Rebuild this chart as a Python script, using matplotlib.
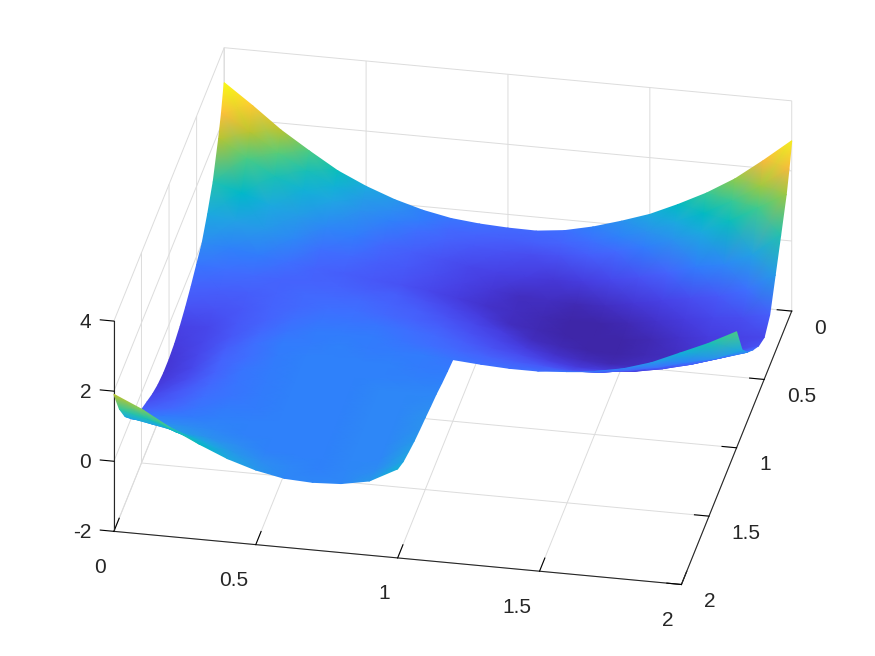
import numpy as np
import matplotlib
matplotlib.use("Agg")
import matplotlib.pyplot as plt
from matplotlib.colors import ListedColormap, Normalize
from matplotlib.transforms import Affine2D
from mpl_toolkits.mplot3d import proj3d

plt.rcParams['font.family'] = ['Liberation Sans', 'DejaVu Sans']

x_upper = [0.0,0.1,0.2,0.3,0.4,0.5,0.6,0.7,0.8,0.9,1.0,1.1,1.2,1.3,1.4,1.5,1.6,1.7,1.8,1.9,2.0]
y_upper = [0.0,0.05,0.1,0.2,0.3,0.4,0.5,0.6,0.7,0.8,0.9,1.0]
x_lower = [0.0,0.1,0.2,0.3,0.4,0.5,0.6,0.7,0.8,0.9,1.0]
y_lower = [1.0,1.1,1.2,1.3,1.4,1.5,1.6,1.7,1.8,1.9,2.0]

z_upper = [
 [3.00,2.42,1.80,1.28,0.79,0.42,0.12,-0.11,-0.27,-0.35,-0.39,-0.40,-0.31,-0.13,0.11,0.38,0.74,1.14,1.62,2.22,2.86],
 [2.32,1.85,1.33,0.90,0.53,0.24,-0.01,-0.21,-0.38,-0.48,-0.54,-0.56,-0.49,-0.35,-0.15,0.07,0.42,0.75,1.18,1.68,2.25],
 [1.80,1.30,0.85,0.55,0.32,0.10,-0.10,-0.30,-0.47,-0.60,-0.67,-0.70,-0.65,-0.55,-0.38,-0.18,0.10,0.40,0.80,1.25,1.72],
 [0.95,0.70,0.42,0.20,-0.05,-0.22,-0.38,-0.52,-0.65,-0.78,-0.88,-0.95,-0.97,-0.92,-0.80,-0.65,-0.45,-0.20,-0.05,0.30,0.95],
 [0.42,0.28,0.12,-0.08,-0.30,-0.42,-0.52,-0.58,-0.72,-0.88,-1.00,-1.10,-1.15,-1.18,-1.15,-1.00,-0.85,-0.70,-0.58,-0.32,0.20],
 [-0.02,-0.10,-0.22,-0.35,-0.45,-0.52,-0.60,-0.68,-0.78,-0.92,-1.05,-1.15,-1.22,-1.27,-1.27,-1.18,-1.05,-0.92,-0.80,-0.72,-0.55],
 [-0.25,-0.32,-0.42,-0.45,-0.45,-0.48,-0.50,-0.55,-0.65,-0.80,-0.95,-1.10,-1.20,-1.27,-1.30,-1.27,-1.18,-1.05,-0.95,-0.88,-0.80],
 [-0.48,-0.52,-0.52,-0.45,-0.40,-0.40,-0.42,-0.47,-0.55,-0.67,-0.80,-0.95,-1.10,-1.20,-1.25,-1.27,-1.22,-1.15,-1.02,-0.85,-0.65],
 [-0.68,-0.68,-0.58,-0.45,-0.36,-0.33,-0.33,-0.37,-0.43,-0.55,-0.67,-0.80,-0.95,-1.05,-1.15,-1.17,-1.15,-1.05,-0.90,-0.65,-0.37],
 [-0.84,-0.78,-0.60,-0.44,-0.32,-0.27,-0.26,-0.28,-0.33,-0.42,-0.52,-0.63,-0.75,-0.85,-0.95,-0.95,-0.90,-0.75,-0.55,-0.30,-0.05],
 [-0.95,-0.82,-0.58,-0.40,-0.28,-0.22,-0.20,-0.22,-0.26,-0.32,-0.40,-0.47,-0.55,-0.60,-0.65,-0.62,-0.48,-0.32,-0.10,0.08,0.40],
 [-1.00,-0.80,-0.52,-0.32,-0.22,-0.17,-0.15,-0.16,-0.18,-0.20,-0.24,-0.30,-0.34,-0.34,-0.28,-0.20,-0.05,0.20,0.55,0.90,1.31],
]
z_lower = [
 [-1.00,-0.80,-0.52,-0.32,-0.22,-0.17,-0.15,-0.16,-0.18,-0.20,-0.24],
 [-1.00,-0.78,-0.48,-0.30,-0.20,-0.15,-0.13,-0.13,-0.14,-0.16,-0.19],
 [-0.94,-0.72,-0.44,-0.28,-0.19,-0.14,-0.12,-0.11,-0.11,-0.12,-0.13],
 [-0.82,-0.62,-0.40,-0.26,-0.18,-0.14,-0.11,-0.10,-0.09,-0.08,-0.05],
 [-0.65,-0.50,-0.35,-0.24,-0.18,-0.14,-0.12,-0.10,-0.08,-0.05,0.00],
 [-0.48,-0.38,-0.28,-0.20,-0.16,-0.14,-0.12,-0.11,-0.08,-0.05,0.06],
 [-0.26,-0.20,-0.16,-0.14,-0.14,-0.14,-0.13,-0.11,-0.08,-0.05,0.11],
 [0.05,0.02,-0.02,-0.06,-0.10,-0.13,-0.14,-0.12,-0.09,-0.04,0.17],
 [0.50,0.35,0.20,0.10,-0.02,-0.10,-0.14,-0.13,-0.09,-0.03,0.26],
 [1.10,0.90,0.60,0.38,0.17,0.00,-0.08,-0.10,-0.07,0.02,0.36],
 [1.91,1.55,1.10,0.72,0.38,0.13,-0.03,-0.07,-0.03,0.12,0.54],
]

x_ticks = [0, 0.5, 1, 1.5, 2]
y_ticks = [0, 0.5, 1, 1.5, 2]
z_ticks = [-2, 0, 2, 4]
x_ticklabels = ['0', '0.5', '1', '1.5', '2']
y_ticklabels = ['0', '0.5', '1', '1.5', '2']
z_ticklabels = ['-2', '0', '2', '4']

parula = ListedColormap([
 (.2422,.1504,.6603),(.2504,.1650,.7076),(.2578,.1818,.7511),(.2647,.1978,.7952),
 (.2706,.2147,.8364),(.2751,.2342,.8710),(.2783,.2559,.8991),(.2803,.2782,.9221),
 (.2813,.3006,.9414),(.2810,.3228,.9579),(.2795,.3447,.9717),(.2760,.3667,.9829),
 (.2699,.3892,.9906),(.2602,.4123,.9952),(.2440,.4358,.9988),(.2206,.4603,.9973),
 (.1963,.4847,.9892),(.1834,.5074,.9798),(.1786,.5289,.9682),(.1764,.5499,.9520),
 (.1687,.5703,.9359),(.1540,.5902,.9218),(.1460,.6091,.9079),(.1380,.6276,.8973),
 (.1248,.6459,.8883),(.1113,.6635,.8763),(.0952,.6798,.8598),(.0689,.6948,.8394),
 (.0297,.7082,.8163),(.0036,.7203,.7917),(.0067,.7312,.7660),(.0433,.7411,.7394),
 (.0964,.7500,.7120),(.1408,.7584,.6842),(.1717,.7670,.6554),(.1938,.7758,.6251),
 (.2161,.7843,.5923),(.2470,.7918,.5567),(.2906,.7973,.5188),(.3406,.8008,.4789),
 (.3909,.8029,.4354),(.4456,.8024,.3909),(.5044,.7993,.3480),(.5616,.7942,.3045),
 (.6174,.7876,.2612),(.6720,.7793,.2227),(.7242,.7698,.1910),(.7738,.7598,.1646),
 (.8203,.7498,.1535),(.8634,.7406,.1596),(.9035,.7330,.1774),(.9393,.7288,.2100),
 (.9728,.7298,.2394),(.9956,.7434,.2371),(.9970,.7659,.2199),(.9952,.7893,.2028),
 (.9892,.8136,.1885),(.9786,.8386,.1766),(.9676,.8639,.1643),(.9610,.8890,.1537),
 (.9597,.9135,.1423),(.9628,.9373,.1265),(.9691,.9606,.1064),(.9769,.9839,.0805)])

W, H = 875, 656
fig = plt.figure(figsize=(W / 100, H / 100), dpi=100, facecolor='white')
side = 800
left, bottom = 42, -70.9
rect = [left / W, bottom / H, side / W, side / H]
ax = fig.add_axes(rect, projection='3d', proj_type='ortho')
ax.view_init(elev=28.8, azim=-79)
ax.set_box_aspect((1, 1, 0.415), zoom=1.034)
ax.patch.set_alpha(0)

ax.set_xlim(0, 2, view_margin=0)
ax.set_ylim(2, 0, view_margin=0)
ax.set_zlim(-2, 4, view_margin=0)
ax.set_xticks(x_ticks, x_ticklabels)
ax.set_yticks(y_ticks, y_ticklabels)
ax.set_zticks(z_ticks, z_ticklabels)
ax.tick_params(labelsize=15, labelcolor='#262626')
ax.tick_params(axis='x', pad=9)
ax.tick_params(axis='y', pad=4)
ax.tick_params(axis='z', pad=6)
ax.zaxis.set_ticks_position('upper')
ax.zaxis.set_label_position('upper')
factors = {'x': 0.6, 'y': 0.32, 'z': 0.3}
aligns = {'x': 'right', 'y': 'left', 'z': 'right'}
nudges = {'x': (-1.5, 1), 'y': (0, 3), 'z': (9, 18.5)}
for name, axis in (('x', ax.xaxis), ('y', ax.yaxis), ('z', ax.zaxis)):
    axis.set_pane_color((1, 1, 1, 0))
    axis.pane.set_edgecolor('#d9d9d9')
    axis.pane.set_linewidth(0.7)
    axis.line.set_color('#262626')
    axis.line.set_linewidth(0.8)
    axis._axinfo['grid'].update(color='#dcdcdc', linewidth=0.7, linestyle='-')
    axis._axinfo['tick'].update(inward_factor=0.0, outward_factor=factors[name])
    axis._axinfo['tick']['linewidth'] = {True: 0.8, False: 0.8}
    axis._axinfo['tick']['color'] = '#262626'
    for lab in axis.get_ticklabels():
        lab.set_ha(aligns[name])
    for tick in axis.get_major_ticks():
        tick.label1.set_transform(ax.transData + Affine2D().translate(*nudges[name]))
        tick.label1.set_transform = lambda *_: None

# The reference surface uses interpolated shading: the hand-read grid vertices are
# projected with the 3D axes' own matrix and drawn as a Gouraud-shaded mesh.
overlay = fig.add_axes(rect, facecolor='none')
overlay.set_axis_off()
norm = Normalize(-1.3, 3.0)
M = ax.get_proj()
for xs, ys, zs in [(x_upper, y_upper, z_upper), (x_lower, y_lower, z_lower)]:
    X, Y = np.meshgrid(xs, ys)
    Z = np.array(zs)
    px, py, _ = proj3d.proj_transform(X.ravel(), Y.ravel(), Z.ravel(), M)
    overlay.pcolormesh(np.reshape(px, X.shape), np.reshape(py, X.shape), Z,
                       shading='gouraud', cmap=parula, norm=norm)
overlay.set_xlim(-0.095, 0.09)
overlay.set_ylim(-0.095, 0.09)

fig.savefig('out.png', dpi=100)
